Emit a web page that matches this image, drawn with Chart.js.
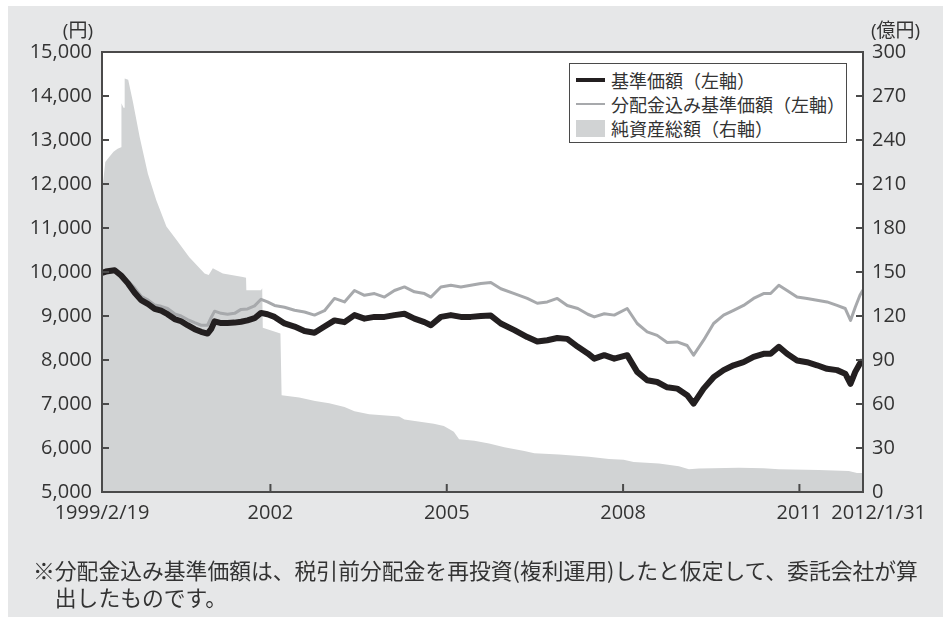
<!DOCTYPE html>
<html lang="ja">
<head>
<meta charset="utf-8">
<script src="https://cdn.jsdelivr.net/npm/chart.js@4.4.1/dist/chart.umd.min.js"></script>
<style>
  body { margin: 0; background: #fff; font-family: "Open Sans", "Noto Sans CJK JP", sans-serif; color: #333; }
  #wrap { position: relative; width: 943px; height: 617px; overflow: hidden; }
  #panel { position: absolute; left: 8px; top: 6px; right: 0; bottom: 0; background: #e6e7e8; }
  #chart { position: absolute; left: 0; top: 0; }
  .unit { position: absolute; top: 19px; font-size: 19px; line-height: 22px; }
  #legend { position: absolute; left: 569px; top: 63px; width: 278px; height: 80px; background: #fff;
            border: 1px solid #4a4a4a; box-sizing: border-box; padding-top: 4px; }
  .row { height: 24px; display: flex; align-items: center; font-size: 18px; font-family: "Noto Sans CJK JP", sans-serif; }
  .swatch { width: 29px; margin-left: 6px; margin-right: 6px; }
  #note { position: absolute; left: 33px; top: 556px; font-size: 21.8px; line-height: 27px;
          font-family: "Noto Sans CJK JP", sans-serif; white-space: nowrap; }
</style>
</head>
<body>
<div id="wrap">
  <div id="panel"></div>
  <canvas id="chart" width="943" height="617"></canvas>
  <div class="unit" style="left:36px;width:57px;text-align:right;">(円)</div>
  <div class="unit" style="left:871px;">(億円)</div>
  <div id="legend"></div>
  <div id="note">※分配金込み基準価額は、税引前分配金を再投資(複利運用)したと仮定して、委託会社が算<br><span style="padding-left:1em;">出したものです。</span></div>
</div>
<script>
// x values are decimal years
const xTickDates = ['1999/2/19', '2002/1/1', '2005/1/1', '2008/1/1', '2011/1/1', '2012/1/31'];
const xTickLabels = ['1999/2/19', '2002', '2005', '2008', '2011', '2012/1/31'];

const priceYears = [
    1999.134, 1999.20, 1999.35, 1999.46, 1999.58, 1999.69, 1999.80, 1999.92, 2000.03, 2000.14,
    2000.25, 2000.37, 2000.48, 2000.59, 2000.71, 2000.82, 2000.93, 2000.99, 2001.05, 2001.16,
    2001.27, 2001.39, 2001.50, 2001.61, 2001.73, 2001.84, 2001.95, 2002.07, 2002.24, 2002.41,
    2002.58, 2002.75, 2002.92, 2003.09, 2003.26, 2003.43, 2003.60, 2003.77, 2003.94, 2004.11,
    2004.28, 2004.45, 2004.62, 2004.73, 2004.90, 2005.07, 2005.24, 2005.41, 2005.58, 2005.75,
    2005.92, 2006.15, 2006.37, 2006.54, 2006.71, 2006.88, 2007.05, 2007.23, 2007.40, 2007.51,
    2007.68, 2007.85, 2008.07, 2008.24, 2008.41, 2008.58, 2008.75, 2008.92, 2009.09, 2009.20,
    2009.37, 2009.54, 2009.71, 2009.88, 2010.05, 2010.22, 2010.39, 2010.51, 2010.65, 2010.79,
    2010.96, 2011.13, 2011.30, 2011.47, 2011.64, 2011.78, 2011.87, 2011.95, 2012.03, 2012.082
];
// 基準価額
const priceValues = [
    9980, 10010, 10040, 9920, 9735, 9530, 9360, 9270, 9160, 9120,
    9040, 8930, 8880, 8790, 8700, 8640, 8600, 8700, 8880, 8840,
    8840, 8850, 8870, 8900, 8950, 9070, 9040, 8980, 8830, 8760,
    8660, 8620, 8760, 8900, 8860, 9020, 8940, 8980, 8980, 9020,
    9050, 8940, 8860, 8790, 8980, 9020, 8980, 8980, 9000, 9010,
    8830, 8680, 8520, 8420, 8450, 8500, 8480, 8300, 8150, 8030,
    8110, 8030, 8110, 7730, 7540, 7500, 7380, 7350, 7200, 7010,
    7350, 7610, 7770, 7880, 7950, 8070, 8140, 8140, 8300, 8140,
    7990, 7950, 7880, 7800, 7770, 7690, 7460, 7730, 7920, 7980
];
// 分配金込み基準価額
const reinvestValues = [
    9990, 10020, 10060, 9960, 9790, 9640, 9450, 9360, 9250, 9220,
    9170, 9050, 9000, 8920, 8850, 8790, 8790, 8960, 9110, 9060,
    9040, 9060, 9150, 9160, 9230, 9380, 9320, 9240, 9200, 9130,
    9090, 9020, 9120, 9400, 9320, 9580, 9470, 9510, 9430, 9580,
    9660, 9550, 9510, 9430, 9660, 9700, 9660, 9700, 9740, 9760,
    9620, 9510, 9400, 9290, 9320, 9400, 9240, 9170, 9040, 8980,
    9050, 9020, 9170, 8830, 8640, 8560, 8400, 8410, 8330, 8110,
    8450, 8830, 9020, 9130, 9240, 9400, 9510, 9510, 9700, 9580,
    9430, 9400, 9360, 9320, 9240, 9170, 8900, 9200, 9470, 9590
];

// 純資産総額 (億円)
const navYears = [
    1999.134, 1999.15, 1999.19, 1999.25, 1999.33, 1999.40, 1999.46, 1999.465, 1999.50, 1999.515,
    1999.52, 1999.58, 1999.66, 1999.775, 1999.915, 2000.058, 2000.23, 2000.40, 2000.62, 2000.88,
    2000.95, 2001.02, 2001.19, 2001.53, 2001.585, 2001.59, 2001.84, 2001.86, 2001.87, 2002.17,
    2002.19, 2002.49, 2002.76, 2003.00, 2003.26, 2003.43, 2003.68, 2004.19, 2004.28, 2004.78,
    2004.95, 2005.04, 2005.12, 2005.21, 2005.47, 2005.72, 2005.98, 2006.32, 2006.49, 2006.91,
    2007.42, 2007.76, 2008.01, 2008.18, 2008.61, 2008.95, 2009.12, 2009.29, 2009.97, 2010.39,
    2010.65, 2011.33, 2011.84, 2011.98, 2012.082
];
const navValues = [
    181, 210, 225, 228, 232, 234, 235, 265, 262, 262,
    282, 281, 266, 242, 217, 199, 181, 172, 160, 149,
    148, 152.5, 149, 146.6, 146, 137.5, 137.5, 139, 112, 108,
    66, 64.5, 62, 60.5, 58, 55, 53, 51.5, 49.5, 46.5,
    45, 43, 41, 36, 35, 33, 30.5, 28, 26.5, 25.5,
    24, 22.5, 22, 20.5, 19.5, 17.5, 15.5, 16, 16.5, 16.2,
    15.5, 15, 14.3, 13, 13
];

const seriesLabels = ['基準価額（左軸）', '分配金込み基準価額（左軸）', '純資産総額（右軸）'];
const seriesColors = ['#231f20', '#a7a9ac', '#d1d3d4'];

function toYear(s) {
    const [y, m, d] = s.split('/').map(Number);
    const days = (Date.UTC(y, m - 1, d) - Date.UTC(y, 0, 1)) / 86400000;
    const len = (y % 4 === 0) ? 366 : 365;
    return y + days / len;
}
const xTickValues = xTickDates.map(toYear);
const pts = (xs, ys) => xs.map((x, i) => ({ x: x, y: ys[i] }));

const tickFont = { family: '"Open Sans", "Noto Sans CJK JP", sans-serif', size: 20 };
const textColor = '#333';

const framePlugin = {
    id: 'frame',
    beforeDraw(chart) {
        const { ctx, chartArea: a } = chart;
        ctx.save();
        ctx.fillStyle = '#fff';
        ctx.fillRect(a.left, a.top, a.right - a.left, a.bottom - a.top);
        ctx.restore();
    },
    afterDraw(chart) {
        const { ctx, chartArea: a, scales } = chart;
        ctx.save();
        ctx.strokeStyle = '#4a4a4a';
        ctx.lineWidth = 2;
        ctx.strokeRect(a.left, a.top, a.right - a.left, a.bottom - a.top);
        ctx.beginPath();
        scales.y.ticks.forEach(t => {
            const py = scales.y.getPixelForValue(t.value);
            ctx.moveTo(a.left, py);
            ctx.lineTo(a.left + 7, py);
        });
        scales.y1.ticks.forEach(t => {
            const py = scales.y1.getPixelForValue(t.value);
            ctx.moveTo(a.right - 7, py);
            ctx.lineTo(a.right, py);
        });
        xTickValues.slice(1, -1).forEach(v => {
            const px = scales.x.getPixelForValue(v);
            ctx.moveTo(px, a.bottom);
            ctx.lineTo(px, a.bottom - 8);
        });
        ctx.stroke();

        // x labels, last one pushed right so it clears "2011"
        ctx.font = tickFont.size + 'px ' + tickFont.family;
        ctx.fillStyle = textColor;
        ctx.textBaseline = 'middle';
        xTickValues.forEach((v, i) => {
            const px = scales.x.getPixelForValue(v);
            if (i === xTickValues.length - 1) {
                ctx.textAlign = 'right';
                ctx.fillText(xTickLabels[i], px + 63, a.bottom + 21);
            } else {
                ctx.textAlign = 'center';
                ctx.fillText(xTickLabels[i], px, a.bottom + 21);
            }
        });
        ctx.restore();
    }
};

const chart = new Chart(document.getElementById('chart'), {
    type: 'line',
    data: {
        datasets: [
            {
                label: seriesLabels[0],
                data: pts(priceYears, priceValues),
                borderColor: seriesColors[0],
                borderWidth: 6,
                pointRadius: 0,
                borderJoinStyle: 'round',
                yAxisID: 'y'
            },
            {
                label: seriesLabels[1],
                data: pts(priceYears, reinvestValues),
                borderColor: seriesColors[1],
                borderWidth: 3,
                pointRadius: 0,
                borderJoinStyle: 'round',
                yAxisID: 'y'
            },
            {
                label: seriesLabels[2],
                data: pts(navYears, navValues),
                borderWidth: 0,
                borderColor: seriesColors[2],
                backgroundColor: seriesColors[2],
                pointRadius: 0,
                fill: 'start',
                yAxisID: 'y1'
            }
        ]
    },
    options: {
        responsive: false,
        animation: false,
        devicePixelRatio: 1,
        layout: { padding: { top: 52 } },
        plugins: { legend: { display: false }, tooltip: { enabled: false } },
        scales: {
            x: {
                type: 'linear',
                min: xTickValues[0],
                max: xTickValues[xTickValues.length - 1],
                grid: { display: false },
                border: { display: false },
                ticks: { display: false },
                afterFit: s => { s.height = 125; }
            },
            y: {
                position: 'left',
                min: 5000,
                max: 15000,
                grid: { display: false, drawTicks: false },
                border: { display: false },
                ticks: {
                    stepSize: 1000,
                    padding: 10,
                    color: textColor,
                    font: tickFont,
                    callback: v => v.toLocaleString('en-US')
                },
                afterFit: s => { s.width = 102; }
            },
            y1: {
                position: 'right',
                min: 0,
                max: 300,
                grid: { display: false, drawTicks: false },
                border: { display: false },
                ticks: { stepSize: 30, padding: 9, color: textColor, font: tickFont },
                afterFit: s => { s.width = 80; }
            }
        }
    },
    plugins: [framePlugin]
});

// legend built from the datasets
const legend = document.getElementById('legend');
chart.data.datasets.forEach((ds, i) => {
    const row = document.createElement('div');
    row.className = 'row';
    const sw = document.createElement('span');
    sw.className = 'swatch';
    if (i === 2) {
        sw.style.height = '17px';
        sw.style.background = ds.backgroundColor;
    } else {
        sw.style.height = i === 0 ? '4px' : '1.5px';
        sw.style.background = ds.borderColor;
    }
    const tx = document.createElement('span');
    tx.textContent = ds.label;
    row.appendChild(sw);
    row.appendChild(tx);
    legend.appendChild(row);
});
</script>
</body>
</html>
